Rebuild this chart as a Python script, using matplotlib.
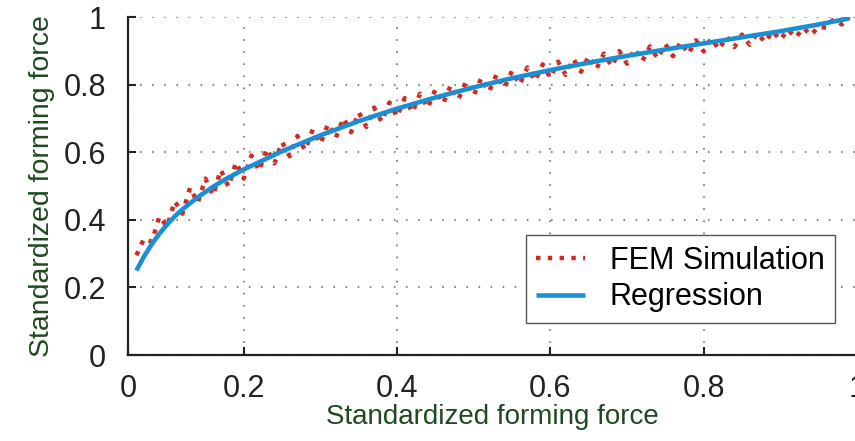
import numpy as np
import matplotlib
matplotlib.use("Agg")
import matplotlib.pyplot as plt

plt.rcParams['font.family'] = ['Liberation Sans', 'DejaVu Sans']

# Regresion (lectura del grafico)
reg_x = [0.06, 0.07, 0.08, 0.09, 0.10, 0.11, 0.12, 0.14, 0.16, 0.18, 0.20, 0.25, 0.30, 0.35,
         0.40, 0.45, 0.50, 0.55, 0.60, 0.65, 0.70, 0.75, 0.80, 0.85, 0.90, 0.95, 0.99]
reg_y = [0.250, 0.292, 0.328, 0.359, 0.386, 0.410, 0.431, 0.467, 0.498, 0.525, 0.549, 0.603,
         0.650, 0.692, 0.729, 0.762, 0.792, 0.819, 0.843, 0.865, 0.885, 0.904, 0.922, 0.940,
         0.958, 0.978, 0.996]

# Simulacion FEM, una muestra cada 0.01 desde 0.06 hasta 0.99
fem_x = np.round(np.arange(0.06, 0.995, 0.01), 2)
fem_y = [0.295, 0.345, 0.335, 0.410, 0.380, 0.455, 0.418, 0.495, 0.450, 0.522,
         0.472, 0.548, 0.498, 0.570, 0.522, 0.590, 0.545, 0.610, 0.567, 0.630,
         0.588, 0.648, 0.606, 0.667, 0.625, 0.684, 0.642, 0.701, 0.659, 0.718,
         0.675, 0.732, 0.690, 0.747, 0.705, 0.760, 0.718, 0.773, 0.731, 0.786,
         0.744, 0.798, 0.756, 0.809, 0.768, 0.820, 0.779, 0.831, 0.790, 0.841,
         0.800, 0.851, 0.811, 0.860, 0.820, 0.868, 0.829, 0.876, 0.838, 0.884,
         0.846, 0.892, 0.854, 0.899, 0.862, 0.906, 0.870, 0.913, 0.877, 0.920,
         0.884, 0.926, 0.891, 0.931, 0.898, 0.937, 0.904, 0.942, 0.911, 0.948,
         0.918, 0.953, 0.925, 0.958, 0.932, 0.963, 0.939, 0.968, 0.946, 0.972,
         0.968, 0.995, 0.978, 1.000]

x_ticks = [0.049, 0.2, 0.4, 0.6, 0.8, 1.0]
x_labels = ['0', '0.2', '0.4', '0.6', '0.8', '1']
y_ticks = [0, 0.2, 0.4, 0.6, 0.8, 1.0]
y_labels = ['0', '0.2', '0.4', '0.6', '0.8', '1']

fig = plt.figure(figsize=(8.55, 4.41), dpi=100)
ax = fig.add_axes([0.1497, 0.195, 0.8526, 0.7664])

ax.plot(fem_x, fem_y, color='#d12a1f', linestyle=':', linewidth=3.2, label='FEM Simulation')
ax.plot(reg_x, reg_y, color='#1b8fd6', linewidth=3.3, label='Regression', solid_capstyle='butt')

ax.set_xlim(0.049, 1.0)
ax.set_ylim(0, 1.0)
ax.set_xticks(x_ticks)
ax.set_xticklabels(x_labels)
ax.set_yticks(y_ticks)
ax.set_yticklabels(y_labels)
ax.tick_params(direction='in', length=6, width=1.5, labelsize=22, colors='#222222')
ax.tick_params(axis='x', pad=14)
ax.tick_params(axis='y', pad=16)

ax.grid(True, color='#8a8a8a', linestyle=(0, (0.8, 5)), linewidth=1.5)
ax.set_axisbelow(True)
for s in ['top', 'right']:
    ax.spines[s].set_visible(False)
for s in ['left', 'bottom']:
    ax.spines[s].set_linewidth(1.6)
    ax.spines[s].set_color('#222222')

ax.set_xlabel('Standardized forming force', fontsize=20, color='#1f4a1f', labelpad=0)
ax.set_ylabel('Standardized forming force', fontsize=20.5, color='#1f4a1f', labelpad=6)

leg = ax.legend(loc='lower right', bbox_to_anchor=(0.970, 0.095), borderaxespad=0,
                fontsize=22, handlelength=1.6, fancybox=False, framealpha=1,
                edgecolor='#555555', borderpad=0.35, labelspacing=0.2, handletextpad=0.8)
leg.get_frame().set_linewidth(1.0)

fig.savefig('out.png', dpi=100)
